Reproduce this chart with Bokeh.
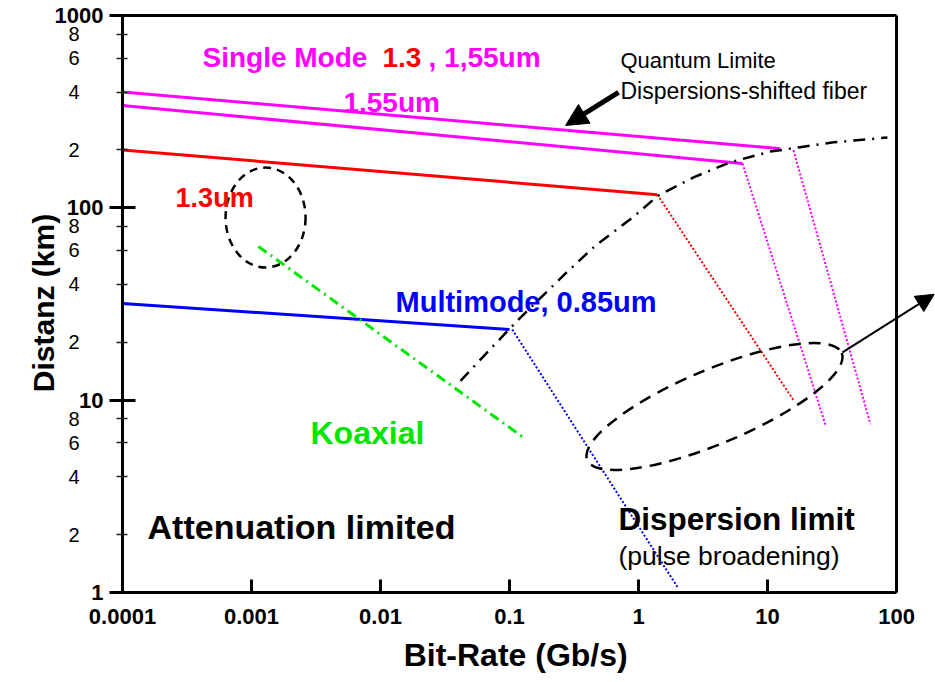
from bokeh.plotting import figure
from bokeh.models import (FixedTicker, Label, Arrow, NormalHead, Range1d, LogAxis)
from bokeh.embed import file_html
from bokeh.resources import INLINE

# ---- data ----
x_ticks = [1e-4, 1e-3, 1e-2, 1e-1, 1, 10, 100]
x_tick_labels = ["0.0001", "0.001", "0.01", "0.1", "1", "10", "100"]
y_ticks = [1, 10, 100, 1000]
y_tick_labels = ["1", "10", "100", "1000"]
y_minor = [2, 4, 6, 8, 20, 40, 60, 80, 200, 400, 600, 800]
y_minor_labels = ["2", "4", "6", "8", "2", "4", "6", "8", "2", "4", "6", "8"]

# dispersion-shifted fiber (quantum limit) attenuation + dispersion limit
ds_x = [1e-4, 12.6]
ds_y = [400, 203]
ds_disp_x = [15.9, 62.8]
ds_disp_y = [199, 7.5]
# single mode 1.55um
sm155_x = [1e-4, 6.4]
sm155_y = [340, 170]
sm155_disp_x = [6.4, 28.2]
sm155_disp_y = [170, 7.4]
# single mode 1.3um
sm13_x = [1e-4, 1.4]
sm13_y = [200, 117]
sm13_disp_x = [1.4, 15.9]
sm13_disp_y = [117, 10]
# multimode 0.85um
mm_x = [1e-4, 0.1]
mm_y = [31.8, 23.3]
mm_disp_x = [0.105, 2.0]
mm_disp_y = [23.3, 1.07]
# coaxial
coax_x = [0.00113, 0.128]
coax_y = [63, 6.4]
# quantum limit curve
ql_x = [0.0417, 0.0618, 0.115, 0.272, 0.465, 0.90, 1.40, 2.67, 5.07, 10.5, 17.4, 32.5, 85]
ql_y = [12.6, 16.7, 25.9, 45.6, 63.7, 89, 115, 144, 172, 196, 206, 219, 232]

X_MIN, X_MAX = 1e-4, 100
Y_MIN, Y_MAX = 1, 1000

FONT = "Liberation Sans"
MAG = "#FF00FF"
RED = "#FF0000"
BLUE = "#0000FF"
GREEN = "#00E600"

# frame is widened to the right edge so the pointer arrow can leave the box
p = figure(width=935, height=682, x_axis_type="log", y_axis_type="log",
           x_range=Range1d(X_MIN, 200.5), y_range=Range1d(Y_MIN, 1024),
           output_backend="svg", toolbar_location=None,
           min_border_left=122, min_border_right=0, min_border_top=13,
           min_border_bottom=90)
p.xgrid.visible = False
p.ygrid.visible = False
p.outline_line_color = None
p.background_fill_color = "white"
p.border_fill_color = "white"

# x axis
xa = p.xaxis[0]
xa.bounds = (X_MIN, X_MAX)
xa.ticker = FixedTicker(ticks=x_ticks, minor_ticks=[])
xa.major_label_overrides = {t: l for t, l in zip(x_ticks, x_tick_labels)}
xa.axis_line_width = 3
xa.major_tick_line_width = 3
xa.major_tick_in = 13
xa.major_tick_out = 0
xa.minor_tick_line_color = None
xa.major_label_standoff = 16
xa.major_label_text_font = FONT
xa.major_label_text_font_style = "bold"
xa.major_label_text_font_size = "22px"
xa.major_label_text_color = "black"
xa.axis_label = "Bit-Rate (Gb/s)\u00a0\u00a0\u00a0"
xa.axis_label_text_font = FONT
xa.axis_label_text_font_style = "bold"
xa.axis_label_text_font_size = "32px"
xa.axis_label_text_color = "black"
xa.axis_label_standoff = 10

# y axis (decades, bold)
ya = p.yaxis[0]
ya.bounds = (Y_MIN, Y_MAX)
ya.ticker = FixedTicker(ticks=y_ticks, minor_ticks=y_minor)
ya.major_label_overrides = {t: l for t, l in zip(y_ticks, y_tick_labels)}
ya.axis_line_width = 3
ya.major_tick_line_width = 3
ya.major_tick_in = 13
ya.major_tick_out = 13
ya.minor_tick_line_width = 1.5
ya.minor_tick_line_color = "#222222"
ya.minor_tick_in = 5
ya.minor_tick_out = 6
ya.major_label_standoff = 6
ya.major_label_text_font = FONT
ya.major_label_text_font_style = "bold"
ya.major_label_text_font_size = "22px"
ya.major_label_text_color = "black"
ya.axis_label = "Distanz (km)"
ya.axis_label_text_font = FONT
ya.axis_label_text_font_style = "bold"
ya.axis_label_text_font_size = "30px"
ya.axis_label_text_color = "black"
ya.axis_label_standoff = -8

# second y axis (outer panel) whose labels are pulled back next to the first one:
# labels of the intermediate ticks, regular weight
ya2 = LogAxis(ticker=FixedTicker(ticks=y_minor, minor_ticks=[]),
              axis_line_color=None, major_tick_line_color=None,
              minor_tick_line_color=None, major_tick_in=0, major_tick_out=0,
              major_label_standoff=-56,
              major_label_overrides={t: l for t, l in zip(y_minor, y_minor_labels)},
              major_label_text_font=FONT, major_label_text_font_size="20px",
              major_label_text_color="black")
p.add_layout(ya2, "left")

# box: top and right borders
p.line([X_MIN, X_MAX], [Y_MAX, Y_MAX], line_color="black", line_width=3)
p.line([X_MAX, X_MAX], [Y_MIN, Y_MAX], line_color="black", line_width=3)

# lines
p.line(ds_x, ds_y, line_color=MAG, line_width=3)
p.line(ds_disp_x, ds_disp_y, line_color=MAG, line_width=2, line_dash="2 2")
p.line(sm155_x, sm155_y, line_color=MAG, line_width=3)
p.line(sm155_disp_x, sm155_disp_y, line_color=MAG, line_width=2, line_dash="2 2")
p.line(sm13_x, sm13_y, line_color=RED, line_width=3)
p.line(sm13_disp_x, sm13_disp_y, line_color=RED, line_width=2, line_dash="2 2")
p.line(mm_x, mm_y, line_color=BLUE, line_width=3)
p.line(mm_disp_x, mm_disp_y, line_color=BLUE, line_width=2, line_dash="2 2")
p.line(coax_x, coax_y, line_color=GREEN, line_width=3, line_dash="10 5 2 5")
p.line(ql_x, ql_y, line_color="black", line_width=2.5, line_dash="12 7 2 7")

# dashed ellipses
p.ellipse(x=[0.001285], y=[89], width=80, height=100, width_units="screen",
          height_units="screen", fill_alpha=0, line_color="black", line_width=2.5,
          line_dash="8 6")
p.ellipse(x=[3.88], y=[9.27], width=276, height=74, angle=0.398, width_units="screen",
          height_units="screen", fill_alpha=0, line_color="black", line_width=2.5,
          line_dash="12 8")

# arrows
p.add_layout(Arrow(end=NormalHead(size=22, fill_color="black", line_color="black"),
                   x_start=0.70, y_start=398, x_end=0.272, y_end=268,
                   line_width=5, line_color="black"))
p.add_layout(Arrow(end=NormalHead(size=18, fill_color="black", line_color="black"),
                   x_start=38.1, y_start=17.7, x_end=196, y_end=35.5,
                   line_width=2, line_color="black"))

def lab(x, y, text, color, size, style="bold"):
    p.add_layout(Label(x=x, y=y, text=text, text_color=color, text_font=FONT,
                       text_font_size=size, text_font_style=style,
                       text_align="left", text_baseline="alphabetic"))

lab(4.17e-4, 605, "Single Mode", MAG, "28px")
lab(0.01036, 605, "1.3", RED, "28px")
lab(0.02356, 605, ", 1,55um", MAG, "28px")
lab(0.00516, 353, "1.55um", MAG, "28px")
lab(2.58e-4, 113, "1.3um", RED, "27px")
lab(0.01307, 32.2, "Multimode, 0.85um", BLUE, "29px")
lab(0.002866, 6.71, "Koaxial", GREEN, "32px")
lab(1.563e-4, 2.18, "Attenuation limited", "black", "34px")
lab(0.700, 2.42, "Dispersion limit", "black", "31.5px")
lab(0.700, 1.557, "(pulse broadening)", "black", "26.5px", "normal")
lab(0.725, 583, "Quantum Limite", "black", "22px", "normal")
lab(0.725, 407, "Dispersions-shifted fiber", "black", "23px", "normal")

open("out.html", "w").write(file_html(p, INLINE))
